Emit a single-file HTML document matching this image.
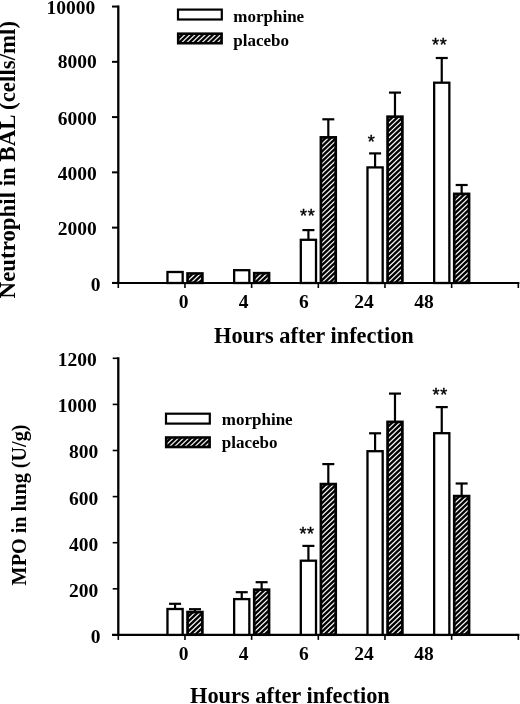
<!DOCTYPE html>
<html><head><meta charset="utf-8"><style>
html,body{margin:0;padding:0;background:#fff;width:520px;height:704px;overflow:hidden}
svg{display:block;filter:grayscale(1)}
.tl{font-family:"Liberation Serif",serif;font-weight:bold;font-size:19.5px;fill:#000}
.tt{font-family:"Liberation Serif",serif;font-weight:bold;font-size:22.4px;fill:#000}
.lg{font-family:"Liberation Serif",serif;font-weight:bold;font-size:17px;fill:#000}
.ast{font-family:"Liberation Sans",sans-serif;font-weight:normal;font-size:18px;fill:#000;stroke:#000;stroke-width:0.45px;text-anchor:middle}
</style></head><body>
<svg width="520" height="704" viewBox="0 0 520 704">
<defs>
</defs>
<rect width="520" height="704" fill="#fff"/>
<line x1="118.30" y1="5.45" x2="118.30" y2="284.00" stroke="#000" stroke-width="2.3"/>
<line x1="112" y1="283.00" x2="519.4" y2="283.00" stroke="#000" stroke-width="2.2"/>
<line x1="112" y1="282.90" x2="118.30" y2="282.90" stroke="#000" stroke-width="2.0"/>
<line x1="112" y1="227.63" x2="118.30" y2="227.63" stroke="#000" stroke-width="2.0"/>
<line x1="112" y1="172.36" x2="118.30" y2="172.36" stroke="#000" stroke-width="2.0"/>
<line x1="112" y1="117.09" x2="118.30" y2="117.09" stroke="#000" stroke-width="2.0"/>
<line x1="112" y1="61.82" x2="118.30" y2="61.82" stroke="#000" stroke-width="2.0"/>
<line x1="112" y1="6.55" x2="118.30" y2="6.55" stroke="#000" stroke-width="2.0"/>
<line x1="118.30" y1="283.00" x2="118.30" y2="288.00" stroke="#000" stroke-width="1.6"/>
<line x1="184.97" y1="283.00" x2="184.97" y2="288.00" stroke="#000" stroke-width="1.6"/>
<line x1="251.64" y1="283.00" x2="251.64" y2="288.00" stroke="#000" stroke-width="1.6"/>
<line x1="318.31" y1="283.00" x2="318.31" y2="288.00" stroke="#000" stroke-width="1.6"/>
<line x1="384.98" y1="283.00" x2="384.98" y2="288.00" stroke="#000" stroke-width="1.6"/>
<line x1="451.65" y1="283.00" x2="451.65" y2="288.00" stroke="#000" stroke-width="1.6"/>
<line x1="518.32" y1="283.00" x2="518.32" y2="288.00" stroke="#000" stroke-width="1.6"/>
<line x1="118.30" y1="357.20" x2="118.30" y2="635.90" stroke="#000" stroke-width="2.3"/>
<line x1="112" y1="634.90" x2="519.4" y2="634.90" stroke="#000" stroke-width="2.2"/>
<line x1="112.7" y1="634.90" x2="118.30" y2="634.90" stroke="#000" stroke-width="1.6"/>
<line x1="112.7" y1="588.80" x2="118.30" y2="588.80" stroke="#000" stroke-width="1.6"/>
<line x1="112.7" y1="542.70" x2="118.30" y2="542.70" stroke="#000" stroke-width="1.6"/>
<line x1="112.7" y1="496.60" x2="118.30" y2="496.60" stroke="#000" stroke-width="1.6"/>
<line x1="112.7" y1="450.50" x2="118.30" y2="450.50" stroke="#000" stroke-width="1.6"/>
<line x1="112.7" y1="404.40" x2="118.30" y2="404.40" stroke="#000" stroke-width="1.6"/>
<line x1="112.7" y1="358.30" x2="118.30" y2="358.30" stroke="#000" stroke-width="1.6"/>
<line x1="118.30" y1="634.90" x2="118.30" y2="639.90" stroke="#000" stroke-width="1.6"/>
<line x1="184.97" y1="634.90" x2="184.97" y2="639.90" stroke="#000" stroke-width="1.6"/>
<line x1="251.64" y1="634.90" x2="251.64" y2="639.90" stroke="#000" stroke-width="1.6"/>
<line x1="318.31" y1="634.90" x2="318.31" y2="639.90" stroke="#000" stroke-width="1.6"/>
<line x1="384.98" y1="634.90" x2="384.98" y2="639.90" stroke="#000" stroke-width="1.6"/>
<line x1="451.65" y1="634.90" x2="451.65" y2="639.90" stroke="#000" stroke-width="1.6"/>
<line x1="518.32" y1="634.90" x2="518.32" y2="639.90" stroke="#000" stroke-width="1.6"/>
<rect x="167.47" y="272.00" width="15.2" height="11.00" fill="#fff" stroke="#000" stroke-width="2.3"/>
<clipPath id="c1"><rect x="188.92" y="274.85" width="12.10" height="6.60"/></clipPath>
<rect x="187.37" y="273.30" width="15.20" height="9.70" fill="#000" stroke="#000" stroke-width="2.3"/>
<path clip-path="url(#c1)" d="M187.92 275.80L202.02 262.40M187.92 280.75L202.02 267.35M187.92 285.70L202.02 272.30M187.92 290.65L202.02 277.25M187.92 295.60L202.02 282.20" stroke="#f5f5f5" stroke-width="1.25" fill="none"/>
<rect x="234.14" y="270.20" width="15.2" height="12.80" fill="#fff" stroke="#000" stroke-width="2.3"/>
<clipPath id="c2"><rect x="255.59" y="274.55" width="12.10" height="6.90"/></clipPath>
<rect x="254.04" y="273.00" width="15.20" height="10.00" fill="#000" stroke="#000" stroke-width="2.3"/>
<path clip-path="url(#c2)" d="M254.59 275.50L268.69 262.10M254.59 280.45L268.69 267.05M254.59 285.40L268.69 272.00M254.59 290.35L268.69 276.95M254.59 295.30L268.69 281.90" stroke="#f5f5f5" stroke-width="1.25" fill="none"/>
<line x1="308.41" y1="230.10" x2="308.41" y2="239.80" stroke="#000" stroke-width="2.2"/>
<line x1="302.41" y1="230.10" x2="314.41" y2="230.10" stroke="#000" stroke-width="2.2"/>
<line x1="328.31" y1="119.30" x2="328.31" y2="137.20" stroke="#000" stroke-width="2.2"/>
<line x1="322.31" y1="119.30" x2="334.31" y2="119.30" stroke="#000" stroke-width="2.2"/>
<rect x="300.81" y="239.80" width="15.2" height="43.20" fill="#fff" stroke="#000" stroke-width="2.3"/>
<clipPath id="c3"><rect x="322.26" y="138.75" width="12.10" height="142.70"/></clipPath>
<rect x="320.71" y="137.20" width="15.20" height="145.80" fill="#000" stroke="#000" stroke-width="2.3"/>
<path clip-path="url(#c3)" d="M321.26 139.70L335.36 126.30M321.26 144.65L335.36 131.25M321.26 149.60L335.36 136.20M321.26 154.55L335.36 141.15M321.26 159.50L335.36 146.10M321.26 164.45L335.36 151.05M321.26 169.40L335.36 156.00M321.26 174.35L335.36 160.95M321.26 179.30L335.36 165.90M321.26 184.25L335.36 170.85M321.26 189.20L335.36 175.80M321.26 194.15L335.36 180.75M321.26 199.10L335.36 185.70M321.26 204.05L335.36 190.65M321.26 209.00L335.36 195.60M321.26 213.95L335.36 200.55M321.26 218.90L335.36 205.50M321.26 223.85L335.36 210.45M321.26 228.80L335.36 215.40M321.26 233.75L335.36 220.35M321.26 238.70L335.36 225.30M321.26 243.65L335.36 230.25M321.26 248.60L335.36 235.20M321.26 253.55L335.36 240.15M321.26 258.50L335.36 245.10M321.26 263.45L335.36 250.05M321.26 268.40L335.36 255.00M321.26 273.35L335.36 259.95M321.26 278.30L335.36 264.90M321.26 283.25L335.36 269.85M321.26 288.20L335.36 274.80M321.26 293.15L335.36 279.75M321.26 298.10L335.36 284.70" stroke="#f5f5f5" stroke-width="1.25" fill="none"/>
<line x1="375.08" y1="153.40" x2="375.08" y2="167.40" stroke="#000" stroke-width="2.2"/>
<line x1="369.08" y1="153.40" x2="381.08" y2="153.40" stroke="#000" stroke-width="2.2"/>
<line x1="394.98" y1="92.60" x2="394.98" y2="116.50" stroke="#000" stroke-width="2.2"/>
<line x1="388.98" y1="92.60" x2="400.98" y2="92.60" stroke="#000" stroke-width="2.2"/>
<rect x="367.48" y="167.40" width="15.2" height="115.60" fill="#fff" stroke="#000" stroke-width="2.3"/>
<clipPath id="c4"><rect x="388.93" y="118.05" width="12.10" height="163.40"/></clipPath>
<rect x="387.38" y="116.50" width="15.20" height="166.50" fill="#000" stroke="#000" stroke-width="2.3"/>
<path clip-path="url(#c4)" d="M387.93 119.00L402.03 105.60M387.93 123.95L402.03 110.55M387.93 128.90L402.03 115.50M387.93 133.85L402.03 120.45M387.93 138.80L402.03 125.40M387.93 143.75L402.03 130.35M387.93 148.70L402.03 135.30M387.93 153.65L402.03 140.25M387.93 158.60L402.03 145.20M387.93 163.55L402.03 150.15M387.93 168.50L402.03 155.10M387.93 173.45L402.03 160.05M387.93 178.40L402.03 165.00M387.93 183.35L402.03 169.95M387.93 188.30L402.03 174.90M387.93 193.25L402.03 179.85M387.93 198.20L402.03 184.80M387.93 203.15L402.03 189.75M387.93 208.10L402.03 194.70M387.93 213.05L402.03 199.65M387.93 218.00L402.03 204.60M387.93 222.95L402.03 209.55M387.93 227.90L402.03 214.50M387.93 232.85L402.03 219.45M387.93 237.80L402.03 224.40M387.93 242.75L402.03 229.35M387.93 247.70L402.03 234.30M387.93 252.65L402.03 239.25M387.93 257.60L402.03 244.20M387.93 262.55L402.03 249.15M387.93 267.50L402.03 254.10M387.93 272.45L402.03 259.05M387.93 277.40L402.03 264.00M387.93 282.35L402.03 268.95M387.93 287.30L402.03 273.90M387.93 292.25L402.03 278.85M387.93 297.20L402.03 283.80" stroke="#f5f5f5" stroke-width="1.25" fill="none"/>
<line x1="441.75" y1="58.00" x2="441.75" y2="82.70" stroke="#000" stroke-width="2.2"/>
<line x1="435.75" y1="58.00" x2="447.75" y2="58.00" stroke="#000" stroke-width="2.2"/>
<line x1="461.65" y1="185.00" x2="461.65" y2="193.70" stroke="#000" stroke-width="2.2"/>
<line x1="455.65" y1="185.00" x2="467.65" y2="185.00" stroke="#000" stroke-width="2.2"/>
<rect x="434.15" y="82.70" width="15.2" height="200.30" fill="#fff" stroke="#000" stroke-width="2.3"/>
<clipPath id="c5"><rect x="455.60" y="195.25" width="12.10" height="86.20"/></clipPath>
<rect x="454.05" y="193.70" width="15.20" height="89.30" fill="#000" stroke="#000" stroke-width="2.3"/>
<path clip-path="url(#c5)" d="M454.60 196.20L468.70 182.80M454.60 201.15L468.70 187.75M454.60 206.10L468.70 192.70M454.60 211.05L468.70 197.65M454.60 216.00L468.70 202.60M454.60 220.95L468.70 207.55M454.60 225.90L468.70 212.50M454.60 230.85L468.70 217.45M454.60 235.80L468.70 222.40M454.60 240.75L468.70 227.35M454.60 245.70L468.70 232.30M454.60 250.65L468.70 237.25M454.60 255.60L468.70 242.20M454.60 260.55L468.70 247.15M454.60 265.50L468.70 252.10M454.60 270.45L468.70 257.05M454.60 275.40L468.70 262.00M454.60 280.35L468.70 266.95M454.60 285.30L468.70 271.90M454.60 290.25L468.70 276.85M454.60 295.20L468.70 281.80" stroke="#f5f5f5" stroke-width="1.25" fill="none"/>
<line x1="175.07" y1="603.80" x2="175.07" y2="609.00" stroke="#000" stroke-width="2.2"/>
<line x1="169.07" y1="603.80" x2="181.07" y2="603.80" stroke="#000" stroke-width="2.2"/>
<line x1="194.97" y1="609.20" x2="194.97" y2="611.90" stroke="#000" stroke-width="2.2"/>
<line x1="188.97" y1="609.20" x2="200.97" y2="609.20" stroke="#000" stroke-width="2.2"/>
<rect x="167.47" y="609.00" width="15.2" height="25.90" fill="#fff" stroke="#000" stroke-width="2.3"/>
<clipPath id="c6"><rect x="188.92" y="613.45" width="12.10" height="19.90"/></clipPath>
<rect x="187.37" y="611.90" width="15.20" height="23.00" fill="#000" stroke="#000" stroke-width="2.3"/>
<path clip-path="url(#c6)" d="M187.92 614.40L202.02 601.00M187.92 619.35L202.02 605.96M187.92 624.30L202.02 610.91M187.92 629.25L202.02 615.86M187.92 634.20L202.02 620.81M187.92 639.15L202.02 625.76M187.92 644.10L202.02 630.71M187.92 649.05L202.02 635.66" stroke="#f5f5f5" stroke-width="1.25" fill="none"/>
<line x1="241.74" y1="592.20" x2="241.74" y2="599.10" stroke="#000" stroke-width="2.2"/>
<line x1="235.74" y1="592.20" x2="247.74" y2="592.20" stroke="#000" stroke-width="2.2"/>
<line x1="261.64" y1="582.20" x2="261.64" y2="589.50" stroke="#000" stroke-width="2.2"/>
<line x1="255.64" y1="582.20" x2="267.64" y2="582.20" stroke="#000" stroke-width="2.2"/>
<rect x="234.14" y="599.10" width="15.2" height="35.80" fill="#fff" stroke="#000" stroke-width="2.3"/>
<clipPath id="c7"><rect x="255.59" y="591.05" width="12.10" height="42.30"/></clipPath>
<rect x="254.04" y="589.50" width="15.20" height="45.40" fill="#000" stroke="#000" stroke-width="2.3"/>
<path clip-path="url(#c7)" d="M254.59 592.00L268.69 578.60M254.59 596.95L268.69 583.55M254.59 601.90L268.69 588.50M254.59 606.85L268.69 593.46M254.59 611.80L268.69 598.41M254.59 616.75L268.69 603.36M254.59 621.70L268.69 608.31M254.59 626.65L268.69 613.26M254.59 631.60L268.69 618.21M254.59 636.55L268.69 623.16M254.59 641.50L268.69 628.11M254.59 646.45L268.69 633.06" stroke="#f5f5f5" stroke-width="1.25" fill="none"/>
<line x1="308.41" y1="545.90" x2="308.41" y2="560.70" stroke="#000" stroke-width="2.2"/>
<line x1="302.41" y1="545.90" x2="314.41" y2="545.90" stroke="#000" stroke-width="2.2"/>
<line x1="328.31" y1="464.10" x2="328.31" y2="483.90" stroke="#000" stroke-width="2.2"/>
<line x1="322.31" y1="464.10" x2="334.31" y2="464.10" stroke="#000" stroke-width="2.2"/>
<rect x="300.81" y="560.70" width="15.2" height="74.20" fill="#fff" stroke="#000" stroke-width="2.3"/>
<clipPath id="c8"><rect x="322.26" y="485.45" width="12.10" height="147.90"/></clipPath>
<rect x="320.71" y="483.90" width="15.20" height="151.00" fill="#000" stroke="#000" stroke-width="2.3"/>
<path clip-path="url(#c8)" d="M321.26 486.40L335.36 473.00M321.26 491.35L335.36 477.95M321.26 496.30L335.36 482.90M321.26 501.25L335.36 487.85M321.26 506.20L335.36 492.80M321.26 511.15L335.36 497.75M321.26 516.10L335.36 502.70M321.26 521.05L335.36 507.65M321.26 526.00L335.36 512.60M321.26 530.95L335.36 517.55M321.26 535.90L335.36 522.50M321.26 540.85L335.36 527.46M321.26 545.80L335.36 532.41M321.26 550.75L335.36 537.36M321.26 555.70L335.36 542.31M321.26 560.65L335.36 547.26M321.26 565.60L335.36 552.21M321.26 570.55L335.36 557.16M321.26 575.50L335.36 562.11M321.26 580.45L335.36 567.06M321.26 585.40L335.36 572.01M321.26 590.35L335.36 576.96M321.26 595.30L335.36 581.91M321.26 600.25L335.36 586.86M321.26 605.20L335.36 591.81M321.26 610.15L335.36 596.76M321.26 615.10L335.36 601.71M321.26 620.05L335.36 606.66M321.26 625.00L335.36 611.61M321.26 629.95L335.36 616.56M321.26 634.90L335.36 621.51M321.26 639.85L335.36 626.46M321.26 644.80L335.36 631.41M321.26 649.75L335.36 636.36" stroke="#f5f5f5" stroke-width="1.25" fill="none"/>
<line x1="375.08" y1="433.30" x2="375.08" y2="451.20" stroke="#000" stroke-width="2.2"/>
<line x1="369.08" y1="433.30" x2="381.08" y2="433.30" stroke="#000" stroke-width="2.2"/>
<line x1="394.98" y1="393.60" x2="394.98" y2="421.70" stroke="#000" stroke-width="2.2"/>
<line x1="388.98" y1="393.60" x2="400.98" y2="393.60" stroke="#000" stroke-width="2.2"/>
<rect x="367.48" y="451.20" width="15.2" height="183.70" fill="#fff" stroke="#000" stroke-width="2.3"/>
<clipPath id="c9"><rect x="388.93" y="423.25" width="12.10" height="210.10"/></clipPath>
<rect x="387.38" y="421.70" width="15.20" height="213.20" fill="#000" stroke="#000" stroke-width="2.3"/>
<path clip-path="url(#c9)" d="M387.93 424.20L402.03 410.80M387.93 429.15L402.03 415.75M387.93 434.10L402.03 420.70M387.93 439.05L402.03 425.65M387.93 444.00L402.03 430.60M387.93 448.95L402.03 435.55M387.93 453.90L402.03 440.50M387.93 458.85L402.03 445.45M387.93 463.80L402.03 450.40M387.93 468.75L402.03 455.35M387.93 473.70L402.03 460.30M387.93 478.65L402.03 465.25M387.93 483.60L402.03 470.20M387.93 488.55L402.03 475.15M387.93 493.50L402.03 480.10M387.93 498.45L402.03 485.05M387.93 503.40L402.03 490.00M387.93 508.35L402.03 494.95M387.93 513.30L402.03 499.90M387.93 518.25L402.03 504.85M387.93 523.20L402.03 509.80M387.93 528.15L402.03 514.75M387.93 533.10L402.03 519.70M387.93 538.05L402.03 524.65M387.93 543.00L402.03 529.61M387.93 547.95L402.03 534.56M387.93 552.90L402.03 539.51M387.93 557.85L402.03 544.46M387.93 562.80L402.03 549.41M387.93 567.75L402.03 554.36M387.93 572.70L402.03 559.31M387.93 577.65L402.03 564.26M387.93 582.60L402.03 569.21M387.93 587.55L402.03 574.16M387.93 592.50L402.03 579.11M387.93 597.45L402.03 584.06M387.93 602.40L402.03 589.01M387.93 607.35L402.03 593.96M387.93 612.30L402.03 598.91M387.93 617.25L402.03 603.86M387.93 622.20L402.03 608.81M387.93 627.15L402.03 613.76M387.93 632.10L402.03 618.71M387.93 637.05L402.03 623.66M387.93 642.00L402.03 628.61M387.93 646.95L402.03 633.56" stroke="#f5f5f5" stroke-width="1.25" fill="none"/>
<line x1="441.75" y1="407.10" x2="441.75" y2="433.20" stroke="#000" stroke-width="2.2"/>
<line x1="435.75" y1="407.10" x2="447.75" y2="407.10" stroke="#000" stroke-width="2.2"/>
<line x1="461.65" y1="483.50" x2="461.65" y2="495.90" stroke="#000" stroke-width="2.2"/>
<line x1="455.65" y1="483.50" x2="467.65" y2="483.50" stroke="#000" stroke-width="2.2"/>
<rect x="434.15" y="433.20" width="15.2" height="201.70" fill="#fff" stroke="#000" stroke-width="2.3"/>
<clipPath id="c10"><rect x="455.60" y="497.45" width="12.10" height="135.90"/></clipPath>
<rect x="454.05" y="495.90" width="15.20" height="139.00" fill="#000" stroke="#000" stroke-width="2.3"/>
<path clip-path="url(#c10)" d="M454.60 498.40L468.70 485.00M454.60 503.35L468.70 489.95M454.60 508.30L468.70 494.90M454.60 513.25L468.70 499.85M454.60 518.20L468.70 504.80M454.60 523.15L468.70 509.75M454.60 528.10L468.70 514.71M454.60 533.05L468.70 519.66M454.60 538.00L468.70 524.61M454.60 542.95L468.70 529.56M454.60 547.90L468.70 534.51M454.60 552.85L468.70 539.46M454.60 557.80L468.70 544.41M454.60 562.75L468.70 549.36M454.60 567.70L468.70 554.31M454.60 572.65L468.70 559.26M454.60 577.60L468.70 564.21M454.60 582.55L468.70 569.16M454.60 587.50L468.70 574.11M454.60 592.45L468.70 579.06M454.60 597.40L468.70 584.01M454.60 602.35L468.70 588.96M454.60 607.30L468.70 593.91M454.60 612.25L468.70 598.86M454.60 617.20L468.70 603.81M454.60 622.15L468.70 608.76M454.60 627.10L468.70 613.71M454.60 632.05L468.70 618.66M454.60 637.00L468.70 623.61M454.60 641.95L468.70 628.56M454.60 646.90L468.70 633.51" stroke="#f5f5f5" stroke-width="1.25" fill="none"/>
<text x="100.6" y="290.70" text-anchor="end" class="tl">0</text>
<text x="96.8" y="235.43" text-anchor="end" class="tl">2000</text>
<text x="96.8" y="180.16" text-anchor="end" class="tl">4000</text>
<text x="96.8" y="124.89" text-anchor="end" class="tl">6000</text>
<text x="96.8" y="68.42" text-anchor="end" class="tl">8000</text>
<text x="95.3" y="14.35" text-anchor="end" class="tl">10000</text>
<text x="100.6" y="642.80" text-anchor="end" class="tl">0</text>
<text x="98.3" y="596.70" text-anchor="end" class="tl">200</text>
<text x="98.3" y="550.60" text-anchor="end" class="tl">400</text>
<text x="98.3" y="504.50" text-anchor="end" class="tl">600</text>
<text x="98.3" y="458.40" text-anchor="end" class="tl">800</text>
<text x="96.8" y="412.30" text-anchor="end" class="tl">1000</text>
<text x="96.8" y="366.20" text-anchor="end" class="tl">1200</text>
<text x="183.60" y="308.2" text-anchor="middle" class="tl">0</text>
<text x="243.70" y="308.2" text-anchor="middle" class="tl">4</text>
<text x="303.80" y="308.2" text-anchor="middle" class="tl">6</text>
<text x="363.90" y="308.2" text-anchor="middle" class="tl">24</text>
<text x="424.00" y="308.2" text-anchor="middle" class="tl">48</text>
<text x="183.60" y="660" text-anchor="middle" class="tl">0</text>
<text x="243.70" y="660" text-anchor="middle" class="tl">4</text>
<text x="303.80" y="660" text-anchor="middle" class="tl">6</text>
<text x="363.90" y="660" text-anchor="middle" class="tl">24</text>
<text x="424.00" y="660" text-anchor="middle" class="tl">48</text>
<text x="214" y="342.6" class="tt">Hours after infection</text>
<text x="190" y="702.5" class="tt">Hours after infection</text>
<text transform="translate(15.3,298.4) rotate(-90)" class="tt" style="font-size:22.9px">Neutrophil in BAL (cells/ml)</text>
<text transform="translate(26,585.4) rotate(-90)" class="tt" style="font-size:20.2px">MPO in lung (U/g)</text>
<rect x="178" y="9.6" width="43.8" height="9.9" fill="#fff" stroke="#000" stroke-width="2.2"/>
<clipPath id="c11"><rect x="179.50" y="35.00" width="40.80" height="6.90"/></clipPath>
<rect x="178.00" y="33.50" width="43.80" height="9.90" fill="#000" stroke="#000" stroke-width="2.2"/>
<path clip-path="url(#c11)" d="M178.50 35.95L221.30 -4.71M178.50 40.80L221.30 0.13M178.50 45.64L221.30 4.98M178.50 50.48L221.30 9.82M178.50 55.33L221.30 14.67M178.50 60.17L221.30 19.51M178.50 65.02L221.30 24.36M178.50 69.86L221.30 29.20M178.50 74.71L221.30 34.05M178.50 79.55L221.30 38.89M178.50 84.40L221.30 43.74" stroke="#e8e8e8" stroke-width="1.3" fill="none"/>
<text x="233.3" y="21.6" class="lg">morphine</text>
<text x="233.3" y="45.6" class="lg">placebo</text>
<rect x="166" y="413.7" width="43.8" height="9.9" fill="#fff" stroke="#000" stroke-width="2.2"/>
<clipPath id="c12"><rect x="167.50" y="438.80" width="40.80" height="6.90"/></clipPath>
<rect x="166.00" y="437.30" width="43.80" height="9.90" fill="#000" stroke="#000" stroke-width="2.2"/>
<path clip-path="url(#c12)" d="M166.50 439.75L209.30 399.09M166.50 444.60L209.30 403.94M166.50 449.44L209.30 408.78M166.50 454.29L209.30 413.63M166.50 459.13L209.30 418.47M166.50 463.98L209.30 423.32M166.50 468.82L209.30 428.16M166.50 473.67L209.30 433.01M166.50 478.51L209.30 437.85M166.50 483.36L209.30 442.70M166.50 488.20L209.30 447.54" stroke="#e8e8e8" stroke-width="1.3" fill="none"/>
<text x="221.8" y="425.4" class="lg">morphine</text>
<text x="221.8" y="447.9" class="lg">placebo</text>
<text x="303.6" y="222.45" class="ast">*</text>
<text x="311.3" y="222.45" class="ast">*</text>
<text x="371.35" y="147.65" class="ast">*</text>
<text x="435.4" y="50.95" class="ast">*</text>
<text x="443.3" y="50.95" class="ast">*</text>
<text x="303.0" y="540.25" class="ast">*</text>
<text x="310.6" y="540.25" class="ast">*</text>
<text x="436.0" y="401.45" class="ast">*</text>
<text x="443.8" y="401.45" class="ast">*</text>
</svg>
</body></html>
